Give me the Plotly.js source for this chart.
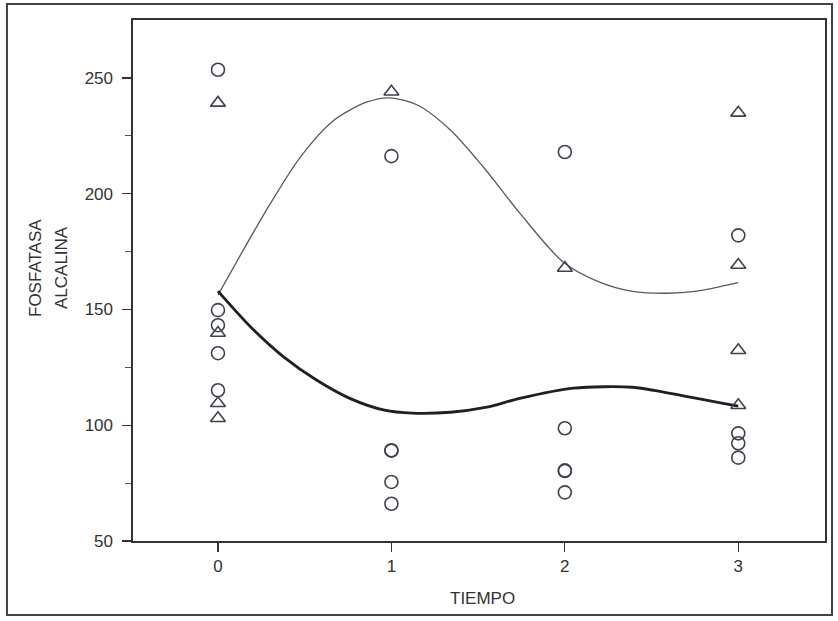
<!DOCTYPE html>
<html>
<head>
<meta charset="utf-8">
<script src="https://cdn.plot.ly/plotly-3.0.1.min.js"></script>
<style>
  html, body { margin: 0; padding: 0; background: #ffffff; }
  #chart { width: 838px; height: 621px; }
</style>
</head>
<body>
<div id="chart"></div>
<script>
// Observed values: circles
const circleX = [0, 0, 0, 0, 0, 1, 1, 1, 1, 1, 2, 2, 2, 2, 2, 3, 3, 3, 3];
const circleY = [253.5, 149.7, 143.2, 131.1, 115.1, 216.2, 89.2, 89.0, 75.5, 66.1,
                 218.0, 98.7, 80.5, 80.2, 71.0, 182.0, 96.5, 92.2, 86.0];

// Observed values: triangles
const triX = [0, 0, 0, 0, 1, 2, 3, 3, 3, 3];
const triY = [239.2, 139.8, 109.5, 103.0, 244.0, 167.9, 234.9, 169.2, 132.4, 108.6];

// Smoothed curve (thin line)
const thinX = [0, 0.28, 0.475, 0.67, 0.86, 0.99, 1.15, 1.34, 1.53, 1.74, 1.99, 2.2, 2.39, 2.59, 2.75, 3.0];
const thinY = [156.2, 193.0, 215.8, 231.8, 239.6, 241.4, 238.3, 227.5, 211.5, 191.6, 170.5, 161.8, 157.8, 157.0, 157.8, 161.6];

// Smoothed curve (thick line)
const thickX = [0, 0.19, 0.38, 0.57, 0.76, 0.96, 1.12, 1.34, 1.55, 1.74, 2.05, 2.39, 2.59, 3.0];
const thickY = [157.9, 142.3, 129.4, 119.4, 111.6, 106.5, 105.2, 105.6, 107.8, 111.6, 116.0, 116.4, 114.0, 108.2];

const xTickVals = [0, 1, 2, 3];
const yTickVals = [50, 100, 150, 200, 250];

const markColor = '#3d424d';
const fontFam = 'Liberation Sans, Arial, sans-serif';

const traces = [
  {
    x: thinX, y: thinY, type: 'scatter', mode: 'lines',
    line: { color: '#555a63', width: 1.3, shape: 'spline', smoothing: 0.8 },
    hoverinfo: 'skip', showlegend: false
  },
  {
    x: thickX, y: thickY, type: 'scatter', mode: 'lines',
    line: { color: '#1e2028', width: 2.8, shape: 'spline', smoothing: 0.8 },
    hoverinfo: 'skip', showlegend: false
  },
  {
    x: circleX, y: circleY, type: 'scatter', mode: 'markers',
    marker: { symbol: 'circle-open', size: 13, color: markColor, line: { width: 1.6, color: markColor } },
    showlegend: false
  },
  {
    x: triX, y: triY, type: 'scatter', mode: 'markers',
    marker: { symbol: 'triangle-up-open', size: 13, color: markColor, line: { width: 1.6, color: markColor } },
    showlegend: false
  }
];

const layout = {
  width: 838, height: 621,
  margin: { l: 133, r: 13, t: 20, b: 80 },
  paper_bgcolor: '#ffffff', plot_bgcolor: '#ffffff',
  font: { family: fontFam, color: '#333333', size: 17 },
  showlegend: false,
  xaxis: {
    range: [-0.49, 3.5], tickvals: xTickVals, ticktext: xTickVals.map(String),
    showgrid: false, zeroline: false, showline: true, linecolor: '#333333', linewidth: 1.6,
    mirror: true, ticks: 'outside', ticklen: 9, tickwidth: 1.3, tickcolor: '#333333',
    tickfont: { family: fontFam, size: 17, color: '#333333' }
  },
  yaxis: {
    range: [50, 275], tickvals: yTickVals, ticktext: yTickVals.map(String),
    showgrid: false, zeroline: false, showline: true, linecolor: '#333333', linewidth: 1.6,
    mirror: true, ticks: 'outside', ticklen: 9, tickwidth: 1.3, tickcolor: '#333333',
    ticklabelstandoff: 6,
    tickfont: { family: fontFam, size: 17, color: '#333333' },
    minor: { tickvals: [75, 125, 175, 225], ticks: 'outside', ticklen: 6, tickwidth: 1.2, tickcolor: '#555555', showgrid: false }
  },
  annotations: [
    { text: 'FOSFATASA', xref: 'paper', yref: 'paper', x: (36 - 133) / 692, y: 0.524,
      xanchor: 'center', yanchor: 'middle', textangle: -90, showarrow: false,
      font: { family: fontFam, size: 17, color: '#333333' } },
    { text: 'ALCALINA', xref: 'paper', yref: 'paper', x: (62 - 133) / 692, y: 0.524,
      xanchor: 'center', yanchor: 'middle', textangle: -90, showarrow: false,
      font: { family: fontFam, size: 17, color: '#333333' } },
    { text: 'TIEMPO', xref: 'paper', yref: 'paper', x: (482 - 133) / 692, y: (541 - 598) / 521,
      xanchor: 'center', yanchor: 'middle', showarrow: false,
      font: { family: fontFam, size: 17, color: '#333333' } }
  ],
  shapes: [
    { type: 'rect', xref: 'paper', yref: 'paper',
      x0: (7 - 133) / 692, x1: (832 - 133) / 692, y0: (541 - 615) / 521, y1: (541 - 4) / 521,
      line: { color: '#444444', width: 2 }, fillcolor: 'rgba(0,0,0,0)', layer: 'below' }
  ]
};

Plotly.newPlot('chart', traces, layout, { displayModeBar: false, staticPlot: true });
</script>
</body>
</html>
